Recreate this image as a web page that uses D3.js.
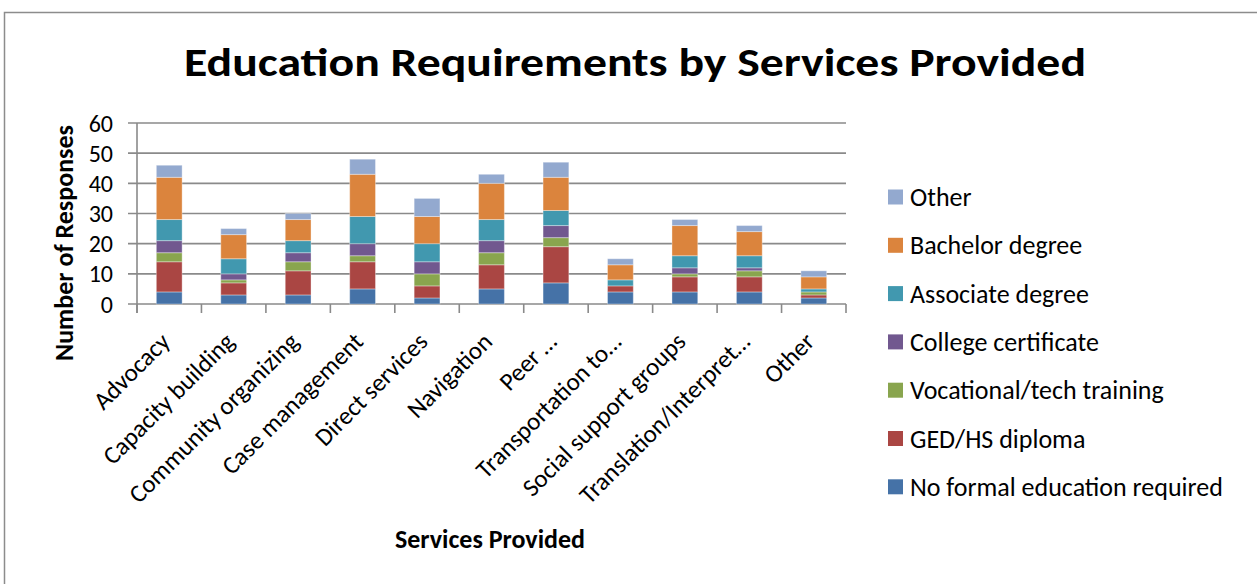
<!DOCTYPE html>
<html>
<head>
<meta charset="utf-8">
<script src="https://cdn.jsdelivr.net/npm/d3@7"></script>
<style>
  body { margin: 0; background: #fff; }
  svg { display: block; font-family: Calibri, Carlito, Lato, sans-serif; }
</style>
</head>
<body>
<svg width="1257" height="584"></svg>
<script>
const categories = ['Advocacy', 'Capacity building', 'Community organizing', 'Case management',
  'Direct services', 'Navigation', 'Peer …', 'Transportation to…', 'Social support groups',
  'Translation/Interpret…', 'Other']

// series values, bottom to top of each stack
const noFormal   = [4, 3, 3, 5, 2, 5, 7, 4, 4, 4, 2]
const gedHs      = [10, 4, 8, 9, 4, 8, 12, 2, 5, 5, 1]
const vocational = [3, 1, 3, 2, 4, 4, 3, 0, 1, 2, 1]
const college    = [4, 2, 3, 4, 4, 4, 4, 0, 2, 1, 0]
const associate  = [7, 5, 4, 9, 6, 7, 5, 2, 4, 4, 1]
const bachelor   = [14, 8, 7, 14, 9, 12, 11, 5, 10, 8, 4]
const other      = [4, 2, 2, 5, 6, 3, 5, 2, 2, 2, 2]

const seriesNames = ['No formal education required', 'GED/HS diploma', 'Vocational/tech training',
  'College certificate', 'Associate degree', 'Bachelor degree', 'Other']
const seriesValues = [noFormal, gedHs, vocational, college, associate, bachelor, other]
const yTicks = [0, 10, 20, 30, 40, 50, 60]

const colors = ['#4572A7', '#AA4643', '#89A54E', '#71588F', '#4198AF', '#DB843D', '#93A9CF']

const svg = d3.select('svg')
const plot = { left: 137, right: 846, top: 123, bottom: 304 }

// outer chart frame
svg.append('rect')
  .attr('x', 4.5).attr('y', 12.5)
  .attr('width', 1300).attr('height', 600)
  .attr('fill', '#fff').attr('stroke', '#8c8c8c').attr('stroke-width', 1.5)

svg.append('text')
  .attr('x', 635).attr('y', 76)
  .attr('text-anchor', 'middle')
  .attr('font-size', 41).attr('font-weight', 'bold')
  .attr('textLength', 902).attr('lengthAdjust', 'spacingAndGlyphs')
  .text('Education Requirements by Services Provided')

const table = categories.map((c, i) => {
  const row = { category: c }
  seriesNames.forEach((s, j) => { row[s] = seriesValues[j][i] })
  return row
})
const stacked = d3.stack().keys(seriesNames)(table)

const x = d3.scaleBand().domain(categories).range([plot.left, plot.right])
const y = d3.scaleLinear().domain([0, 60]).range([plot.bottom, plot.top])
const barW = x.bandwidth() * 0.4

// gridlines + y ticks
svg.append('g').selectAll('line').data(yTicks).enter().append('line')
  .attr('x1', plot.left - 9).attr('x2', plot.right)
  .attr('y1', d => y(d)).attr('y2', d => y(d))
  .attr('stroke', '#8a8a8a').attr('stroke-width', 1.6)

svg.append('g').selectAll('text').data(yTicks).enter().append('text')
  .attr('x', 113).attr('y', d => y(d))
  .attr('dy', '0.36em')
  .attr('text-anchor', 'end')
  .attr('font-size', 24)
  .text(d => d)

// bars
svg.append('g').selectAll('g').data(stacked).enter().append('g')
    .attr('fill', (d, i) => colors[i])
  .selectAll('rect').data(d => d).enter().append('rect')
    .attr('x', d => x(d.data.category) + (x.bandwidth() - barW) / 2)
    .attr('y', d => y(d[1]))
    .attr('width', barW)
    .attr('height', d => y(d[0]) - y(d[1]))
    .attr('stroke', 'rgba(255,255,255,0.35)').attr('stroke-width', 1)

// axes lines
svg.append('line')
  .attr('x1', plot.left).attr('x2', plot.left)
  .attr('y1', plot.top).attr('y2', plot.bottom + 9)
  .attr('stroke', '#8a8a8a').attr('stroke-width', 1.6)
const bounds = categories.map(c => x(c)).concat([plot.right])
svg.append('g').selectAll('line').data(bounds).enter().append('line')
  .attr('x1', d => d).attr('x2', d => d)
  .attr('y1', plot.bottom).attr('y2', plot.bottom + 9)
  .attr('stroke', '#8a8a8a').attr('stroke-width', 1.6)

// x labels
svg.append('g').selectAll('text').data(categories).enter().append('text')
  .attr('transform', d => `translate(${x(d) + x.bandwidth() / 2 - 4},${plot.bottom + 33}) rotate(-45)`)
  .attr('text-anchor', 'end')
  .attr('dy', '0.35em')
  .attr('font-size', 25)
  .text(d => d)

// axis titles
svg.append('text')
  .attr('x', 490).attr('y', 548)
  .attr('text-anchor', 'middle')
  .attr('font-size', 26).attr('font-weight', 'bold')
  .text('Services Provided')

svg.append('text')
  .attr('transform', 'translate(64,243) rotate(-90)')
  .attr('text-anchor', 'middle')
  .attr('dy', '0.35em')
  .attr('font-size', 26).attr('font-weight', 'bold')
  .text('Number of Responses')

// legend, reversed order
const legendItems = seriesNames.map((s, i) => ({ name: s, color: colors[i] })).reverse()
const legend = svg.append('g').selectAll('g').data(legendItems).enter().append('g')
  .attr('transform', (d, i) => `translate(888,${197 + i * 48.3})`)
legend.append('rect')
  .attr('x', 0).attr('y', -7.5).attr('width', 15).attr('height', 15)
  .attr('fill', d => d.color)
legend.append('text')
  .attr('x', 22).attr('dy', '0.35em')
  .attr('font-size', 26)
  .text(d => d.name)
</script>
</body>
</html>
